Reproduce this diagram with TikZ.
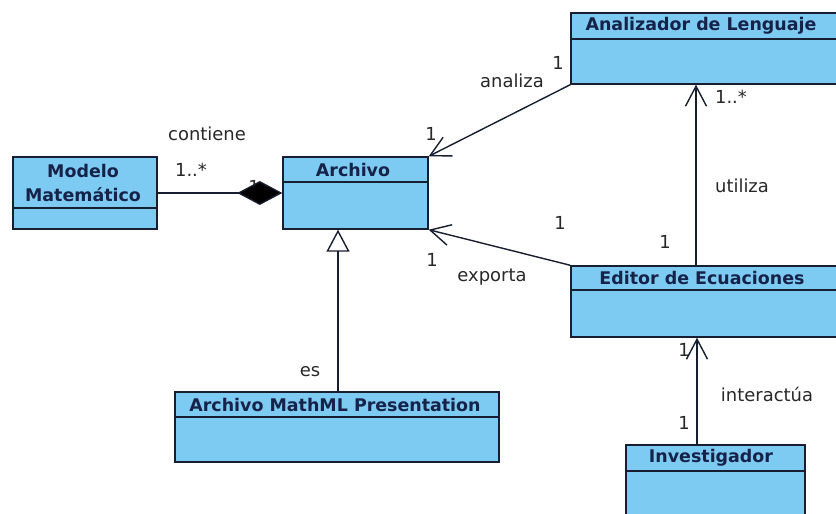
\documentclass[tikz,border=0pt]{standalone}
\usepackage{fontspec}
\setmainfont{DejaVu Sans}
\usetikzlibrary{arrows.meta}
\definecolor{classfill}{RGB}{125,202,242}
\definecolor{classline}{RGB}{22,30,48}
\definecolor{headtext}{RGB}{22,34,72}
\definecolor{lbltext}{RGB}{40,40,40}
\tikzset{
  classbox/.style={draw=classline, fill=classfill, line width=1.4bp, inner sep=0pt},
  divider/.style={draw=classline, line width=1.4bp},
  headname/.style={text=headtext, font=\fontsize{17.5}{24}\selectfont\bfseries, inner sep=0pt, align=center},
  lbl/.style={text=lbltext, font=\fontsize{18}{20}\selectfont, inner sep=0pt},
  assoc/.style={draw=classline, line width=1.4bp, -{Straight Barb[length=20bp,width=21bp,line width=1.4bp]}},
  gen/.style={draw=classline, line width=1.4bp, -{Triangle[open,length=22bp,width=23bp,fill=white,line width=1.4bp]}},
  comp/.style={draw=classline, line width=1.4bp, {Diamond[length=45bp,width=24bp,fill=black]}-},
}
\begin{document}
\begin{tikzpicture}[x=1bp,y=-1bp]
\useasboundingbox (0,0) rectangle (836,514);
\fill[white] (0,0) rectangle (836,514);

% classes
\node[classbox, minimum width=144bp, minimum height=72bp] (modelo) at (85,193) {};
\draw[divider] (13,208) -- (157,208);
\node[headname] (modelo-t) at (83,183) {Modelo\\Matemático};

\node[classbox, minimum width=145bp, minimum height=72bp] (archivo) at (355.5,193) {};
\draw[divider] (283,182) -- (428,182);
\node[headname] (archivo-t) at (353,170) {Archivo};

\node[classbox, minimum width=274bp, minimum height=71bp] (analizador) at (708,48.5) {};
\draw[divider] (571,39) -- (845,39);
\node[headname] (analizador-t) at (701,26) {Analizador de Lenguaje};

\node[classbox, minimum width=274bp, minimum height=71bp] (editor) at (708,301.5) {};
\draw[divider] (571,290) -- (845,290);
\node[headname] (editor-t) at (702,278) {Editor de Ecuaciones};

\node[classbox, minimum width=324bp, minimum height=70bp] (mathml) at (337,427) {};
\draw[divider] (175,417) -- (499,417);
\node[headname] (mathml-t) at (335,405) {Archivo MathML Presentation};

\node[classbox, minimum width=179bp, minimum height=80bp] (investigador) at (715.5,485) {};
\draw[divider] (626,471) -- (805,471);
\node[headname] (investigador-t) at (711,458) {Investigador};

% labels
\node[lbl] (l-contiene) at (207,134) {contiene};
\node[lbl] (l-cm) at (191,170) {1..*};
\node[lbl] (l-c1) at (254,187) {1};

\node[lbl] (l-analiza) at (512,81) {analiza};
\node[lbl] (l-a1) at (558,63) {1};
\node[lbl] (l-a2) at (431,134) {1};

\node[lbl] (l-utiliza) at (742,186) {utiliza};
\node[lbl] (l-um) at (731,97) {1..*};
\node[lbl] (l-u1) at (665,242) {1};

\node[lbl] (l-exporta) at (492,277) {exporta};
\node[lbl] (l-e1) at (560,223) {1};
\node[lbl] (l-e2) at (432,260) {1};

\node[lbl] (l-inter) at (767,394) {interactúa};
\node[lbl] (l-i1) at (684,350) {1};
\node[lbl] (l-i2) at (684,423) {1};

\node[lbl] (l-es) at (310,372) {es};

% connectors
\coordinate (ux) at (696,0);
\coordinate (ix) at (697,0);
\coordinate (gx) at (338,0);
\draw[comp] (archivo.west) -- (modelo.east);
\draw[assoc] (analizador.south west) -- (archivo.north east);
\draw[assoc] (editor.north west) -- (archivo.south east);
\draw[assoc] (ux |- editor.north) -- (ux |- analizador.south);
\draw[assoc] (ix |- investigador.north) -- (ix |- editor.south);
\draw[gen] (gx |- mathml.north) -- (gx |- archivo.south);
\end{tikzpicture}
\end{document}
